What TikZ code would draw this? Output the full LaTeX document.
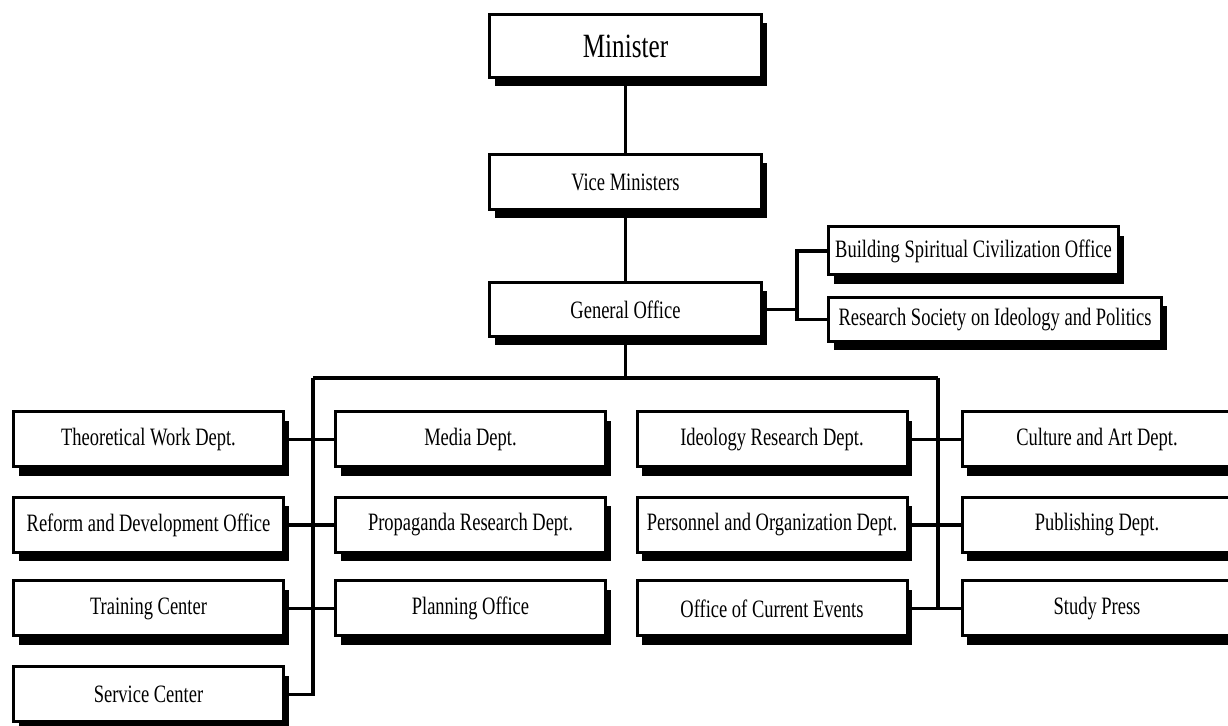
\documentclass[tikz,border=0pt]{standalone}
\usepackage{fontspec}
\setmainfont{Liberation Serif}[FakeStretch=0.74]
\usetikzlibrary{shadows,backgrounds}

\tikzset{
	unit/.style={draw, line width=1.5pt, fill=white, inner sep=1pt,
		minimum width=135pt, minimum height=27.5pt,
		font=\fontsize{12.5}{14}\selectfont,
		drop shadow={shadow xshift=2.5pt, shadow yshift=-4.5pt, opacity=1, fill=black}},
	top unit/.style={unit, minimum width=136pt},
	link/.style={line width=1.6pt}
}

\begin{document}
\begin{tikzpicture}[x=0.5pt,y=-0.5pt]
	\useasboundingbox (0,0) rectangle (1228,726);
	\clip (0,0) rectangle (1228,726);
	
	% The top of the chain
	\node[top unit, minimum height=31.5pt, font=\fontsize{17}{20}\selectfont] (min) at (625.5,46) {Minister};
	\node[top unit] (vice) at (625.5,182) {Vice Ministers};
	\node[top unit, minimum height=27pt] (gen) at (625.5,309.5) {General Office};
	
	% Offices beside the General Office
	\node[unit, minimum width=145pt, minimum height=24pt] (build) at (973.5,251) {Building Spiritual Civilization Office};
	\node[unit, minimum width=166.5pt, minimum height=22pt] (soc) at (995,319.5) {Research Society on Ideology and Politics};
	
	% The departments
	\node[unit] (theo) at (148.5,439.5) {Theoretical Work Dept.};
	\node[unit] (reform) at (148.5,525) {Reform and Development Office};
	\node[unit] (train) at (148.5,608.5) {Training Center};
	\node[unit] (serv) at (148.5,694.5) {Service Center};
	
	\node[unit] (media) at (470.5,439.5) {Media Dept.};
	\node[unit] (prop) at (470.5,525) {Propaganda Research Dept.};
	\node[unit] (plan) at (470.5,608.5) {Planning Office};
	
	\node[unit] (ideo) at (772,439.5) {Ideology Research Dept.};
	\node[unit] (pers) at (772,525) {Personnel and Organization Dept.};
	\node[unit] (curr) at (772,608.5) {Office of Current Events};
	
	\node[unit] (cult) at (1097,439.5) {Culture and Art Dept.};
	\node[unit] (pub) at (1097,525) {Publishing Dept.};
	\node[unit] (press) at (1097,608.5) {Study Press};
	
	\coordinate (side) at (797,309.5);
	\coordinate (busL) at (313,378);
	\coordinate (busT) at (625.5,378);
	\coordinate (busR) at (938,378);
	
	% The lines
	\begin{pgfonlayer}{background}
	\draw[link] (min) -- (vice);
	\draw[link] (vice) -- (gen);
	\draw[link] (gen.east) -- (side);
	\draw[link] (build.west) -| (side);
	\draw[link] (soc.west) -| (side);
	\draw[link] (gen.south) -- (busT);
	\draw[link] (busL) -- (busR);
	\draw[link] (busL) |- (serv.east);
	\draw[link] (busR) |- (curr.east);
	\draw[link] (theo.east) -- (media.west);
	\draw[link] (reform.east) -- (prop.west);
	\draw[link] (train.east) -- (plan.west);
	\draw[link] (ideo.east) -- (cult.west);
	\draw[link] (pers.east) -- (pub.west);
	\draw[link] (curr.east) -- (press.west);
	\end{pgfonlayer}
\end{tikzpicture}
\end{document}
